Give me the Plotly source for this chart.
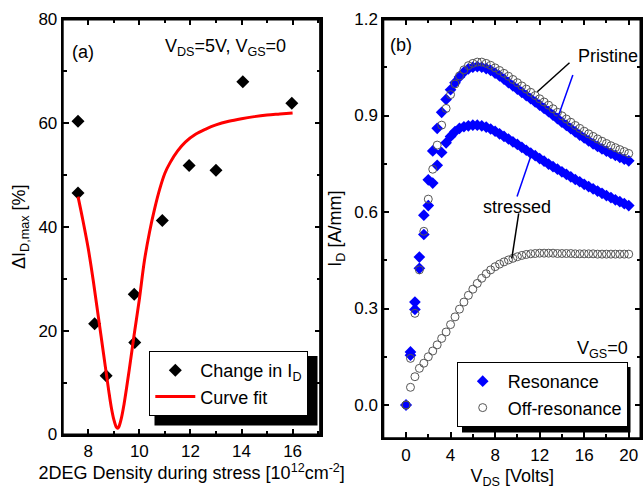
import plotly.graph_objects as go

# ---------------- Panel (a) data ----------------
density = [7.6, 7.6, 8.25, 8.7, 9.8, 9.82, 10.9, 11.95, 13.0, 14.05, 15.97]
delta_id = [60.3, 46.5, 21.3, 11.3, 27.0, 17.7, 41.2, 51.8, 50.9, 67.9, 63.8]

fit_x = [7.6, 7.8, 8.0, 8.2, 8.4, 8.6, 8.8, 8.9, 9.0, 9.1, 9.15, 9.2, 9.3, 9.4, 9.6,
         9.8, 10.0, 10.2, 10.4, 10.6, 10.8, 11.0, 11.2, 11.5, 11.8, 12.2, 12.6, 13.0,
         13.5, 14.0, 14.5, 15.0, 15.5, 16.0]
fit_y = [45.8, 41.0, 35.8, 29.5, 22.5, 15.5, 8.5, 5.3, 2.9, 1.4, 1.2, 1.5, 3.2, 5.8, 12.3,
         19.3, 26.0, 33.5, 39.0, 43.5, 47.3, 50.3, 52.3, 54.6, 56.3, 57.8, 58.8, 59.6,
         60.3, 60.8, 61.2, 61.5, 61.7, 61.9]

# ---------------- Panel (b) data ----------------
vds = [0.0, 0.4, 0.8, 1.2, 1.6, 2.0, 2.4, 2.8, 3.2, 3.6,
       4.0, 4.4, 4.8, 5.2, 5.6, 6.0, 6.4, 6.8, 7.2, 7.6,
       8.0, 8.4, 8.8, 9.2, 9.6, 10.0, 10.4, 10.8, 11.2, 11.6,
       12.0, 12.4, 12.8, 13.2, 13.6, 14.0, 14.4, 14.8, 15.2, 15.6,
       16.0, 16.4, 16.8, 17.2, 17.6, 18.0, 18.4, 18.8, 19.2, 19.6, 20.0]

pristine_res = [0.0, 0.165, 0.32, 0.46, 0.59, 0.70, 0.79, 0.86, 0.91, 0.95,
                0.98, 1.002, 1.02, 1.035, 1.045, 1.05, 1.052, 1.05, 1.046, 1.04,
                1.032, 1.023, 1.013, 1.002, 0.992, 0.982, 0.972, 0.962, 0.952, 0.942,
                0.932, 0.922, 0.912, 0.901, 0.890, 0.879, 0.869, 0.859, 0.849, 0.839,
                0.830, 0.821, 0.812, 0.804, 0.796, 0.789, 0.782, 0.776, 0.770, 0.764, 0.759]

pristine_off = [0.0, 0.145, 0.285, 0.42, 0.54, 0.64, 0.733, 0.808, 0.87, 0.922,
                0.965, 0.998, 1.023, 1.042, 1.055, 1.062, 1.066, 1.066, 1.062, 1.056,
                1.048, 1.04, 1.031, 1.022, 1.012, 1.002, 0.992, 0.982, 0.972, 0.962,
                0.952, 0.942, 0.932, 0.921, 0.910, 0.899, 0.889, 0.879, 0.869, 0.86,
                0.851, 0.843, 0.835, 0.827, 0.82, 0.813, 0.806, 0.80, 0.794, 0.788, 0.782]

stressed_res = [0.0, 0.155, 0.297, 0.425, 0.53, 0.62, 0.69, 0.745, 0.785, 0.815,
                0.835, 0.85, 0.86, 0.865, 0.868, 0.87, 0.87, 0.868, 0.864, 0.858,
                0.851, 0.843, 0.835, 0.827, 0.818, 0.81, 0.801, 0.792, 0.783, 0.775,
                0.766, 0.758, 0.749, 0.741, 0.733, 0.725, 0.717, 0.709, 0.701, 0.694,
                0.686, 0.679, 0.672, 0.665, 0.658, 0.651, 0.645, 0.638, 0.632, 0.626, 0.62]

stressed_off = [0.0, 0.055, 0.088, 0.114, 0.13, 0.15, 0.168, 0.187, 0.207, 0.227,
                0.25, 0.274, 0.298, 0.32, 0.341, 0.36, 0.378, 0.394, 0.408, 0.42,
                0.43, 0.438, 0.445, 0.451, 0.456, 0.461, 0.465, 0.468, 0.47, 0.471,
                0.472, 0.472, 0.472, 0.472, 0.471, 0.471, 0.471, 0.471, 0.47, 0.47,
                0.47, 0.47, 0.47, 0.469, 0.469, 0.469, 0.469, 0.469, 0.469, 0.469, 0.469]

a_xticks = [8, 10, 12, 14, 16]
a_yticks = [0, 20, 40, 60, 80]
b_xticks = [0, 4, 8, 12, 16, 20]
b_yticks = [0.0, 0.3, 0.6, 0.9, 1.2]
b_yticktext = ["0.0", "0.3", "0.6", "0.9", "1.2"]

W, H = 644, 490
def px(x):
    return x / W
def py(y):
    return 1 - y / H

FONT = "Liberation Sans, Arial, sans-serif"
BLUE = "#0000FF"

fig = go.Figure()

# Panel (a)
fig.add_trace(go.Scatter(x=density, y=delta_id, mode="markers", name="Change in I<sub>D</sub>",
                         marker=dict(symbol="diamond", size=10, color="black"),
                         xaxis="x", yaxis="y", legend="legend"))
fig.add_trace(go.Scatter(x=fit_x, y=fit_y, mode="lines", name="Curve fit",
                         line=dict(color="#FF0000", width=3, shape="spline"),
                         xaxis="x", yaxis="y", legend="legend"))

# Panel (b)
fig.add_trace(go.Scatter(x=vds, y=pristine_res, mode="markers", name="Resonance",
                         marker=dict(symbol="diamond", size=9, color=BLUE),
                         xaxis="x2", yaxis="y2", legend="legend2", legendgroup="res"))
fig.add_trace(go.Scatter(x=vds, y=stressed_res, mode="markers", name="Resonance",
                         marker=dict(symbol="diamond", size=9, color=BLUE),
                         xaxis="x2", yaxis="y2", legend="legend2", legendgroup="res",
                         showlegend=False))
fig.add_trace(go.Scatter(x=vds, y=pristine_off, mode="markers", name="Off-resonance",
                         marker=dict(symbol="circle-open", size=8, color="#555555",
                                     line=dict(width=1, color="#555555")),
                         xaxis="x2", yaxis="y2", legend="legend2", legendgroup="off"))
fig.add_trace(go.Scatter(x=vds, y=stressed_off, mode="markers", name="Off-resonance",
                         marker=dict(symbol="circle-open", size=8, color="#555555",
                                     line=dict(width=1, color="#555555")),
                         xaxis="x2", yaxis="y2", legend="legend2", legendgroup="off",
                         showlegend=False))

def axis_style(**kw):
    d = dict(showline=True, linecolor="black", linewidth=2, mirror="ticks",
             ticks="inside", ticklen=6, tickwidth=2, tickcolor="black",
             showgrid=False, zeroline=False, automargin=False,
             tickfont=dict(family=FONT, size=17, color="black"))
    d.update(kw)
    return d

def minor(dt):
    return dict(ticks="inside", ticklen=4, tickwidth=2, tickcolor="black", dtick=dt, tick0=0)

# panel boxes in pixels (left, top, right, bottom)
box_a = (62.7, 19, 320.7, 434.5)
box_b = (383.3, 19, 641, 438.3)
xa_rng = [7.0, 17.1]
ya_rng = [0, 80]
xb_rng = [-2.04, 21.1]
yb_rng = [-0.1035, 1.2]

fig.update_layout(
    width=W, height=H, autosize=False, paper_bgcolor="white", plot_bgcolor="white",
    margin=dict(l=0, r=0, t=0, b=0, pad=0, autoexpand=False),
    font=dict(family=FONT, color="black", size=18),
    xaxis=axis_style(domain=[px(box_a[0]), px(box_a[2])], range=xa_rng, anchor="y",
                     tickvals=a_xticks, minor=minor(1),
                     title=dict(text="2DEG Density during stress [10<sup>12</sup>cm<sup>-2</sup>]",
                                font=dict(family=FONT, size=18), standoff=6)),
    yaxis=axis_style(domain=[py(box_a[3]), py(box_a[1])], range=ya_rng, anchor="x",
                     tickvals=a_yticks, minor=minor(10),
                     title=dict(text="ΔI<sub>D,max</sub> [%]", font=dict(family=FONT, size=18), standoff=8)),
    xaxis2=axis_style(domain=[px(box_b[0]), px(box_b[2])], range=xb_rng, anchor="y2",
                      tickvals=b_xticks, minor=minor(2),
                      title=dict(text="V<sub>DS</sub> [Volts]", font=dict(family=FONT, size=18), standoff=6)),
    yaxis2=axis_style(domain=[py(box_b[3]), py(box_b[1])], range=yb_rng, anchor="x2",
                      tickvals=b_yticks, ticktext=b_yticktext, minor=minor(0.15),
                      title=dict(text="I<sub>D</sub> [A/mm]", font=dict(family=FONT, size=18), standoff=8)),
    legend=dict(x=px(149.3), y=py(351), xanchor="left", yanchor="top",
                bgcolor="white", bordercolor="black", borderwidth=1,
                font=dict(family=FONT, size=18), itemwidth=40, tracegroupgap=0),
    legend2=dict(x=px(456.7), y=py(362), xanchor="left", yanchor="top",
                 bgcolor="white", bordercolor="black", borderwidth=1,
                 font=dict(family=FONT, size=18), itemwidth=40, tracegroupgap=0),
    showlegend=True,
)

# frames around both panels (paper coordinates)
for (l, t, r, b) in (box_a, box_b):
    fig.add_shape(type="rect", xref="paper", yref="paper",
                  x0=px(l), x1=px(r), y0=py(b), y1=py(t),
                  line=dict(color="black", width=2), fillcolor="rgba(0,0,0,0)", layer="above")

# top / right frame edges also drawn in each panel's own axis coordinates
for xr, yr, xrng, yrng in (("x", "y", xa_rng, ya_rng), ("x2", "y2", xb_rng, yb_rng)):
    fig.add_shape(type="line", xref=xr, yref=yr, x0=xrng[0], x1=xrng[1], y0=yrng[1], y1=yrng[1],
                  line=dict(color="black", width=3))
    fig.add_shape(type="line", xref=xr, yref=yr, x0=xrng[1], x1=xrng[1], y0=yrng[0], y1=yrng[1],
                  line=dict(color="black", width=3))

# legend shadows (offset black boxes behind the legends)
fig.add_shape(type="rect", xref="paper", yref="paper",
              x0=px(154.5), x1=px(317.5), y0=py(356), y1=py(425.5),
              fillcolor="black", line=dict(width=0), layer="above")
fig.add_shape(type="rect", xref="paper", yref="paper",
              x0=px(462), x1=px(630.5), y0=py(367), y1=py(432.5),
              fillcolor="black", line=dict(width=0), layer="above")

# pointer lines (panel b)
fig.add_shape(type="line", xref="x2", yref="y2", x0=14.68, y0=1.064, x1=11.79, y1=0.974,
              line=dict(color="black", width=1.5))
fig.add_shape(type="line", xref="x2", yref="y2", x0=14.98, y0=1.026, x1=13.6, y1=0.891,
              line=dict(color=BLUE, width=1.5))
fig.add_shape(type="line", xref="x2", yref="y2", x0=11.34, y0=0.787, x1=9.97, y1=0.648,
              line=dict(color=BLUE, width=1.5))
fig.add_shape(type="line", xref="x2", yref="y2", x0=10.12, y0=0.596, x1=9.5, y1=0.456,
              line=dict(color="black", width=1.5))

def ann(text, x, y, xanchor="center", size=18):
    fig.add_annotation(text=text, xref="paper", yref="paper", x=px(x), y=py(y),
                       xanchor=xanchor, yanchor="middle", showarrow=False,
                       font=dict(family=FONT, size=size, color="black"))

ann("(a)", 82.5, 52)
ann("V<sub>DS</sub>=5V, V<sub>GS</sub>=0", 163, 47, xanchor="left")
ann("(b)", 401, 45)
ann("Pristine", 607.5, 56)
ann("stressed", 516.7, 207)
ann("V<sub>GS</sub>=0", 575, 349, xanchor="left")

fig.write_html("out.html", config={"displayModeBar": False},
               post_script="document.body.style.margin='0';document.body.style.padding='0';document.documentElement.style.overflow='hidden';")
